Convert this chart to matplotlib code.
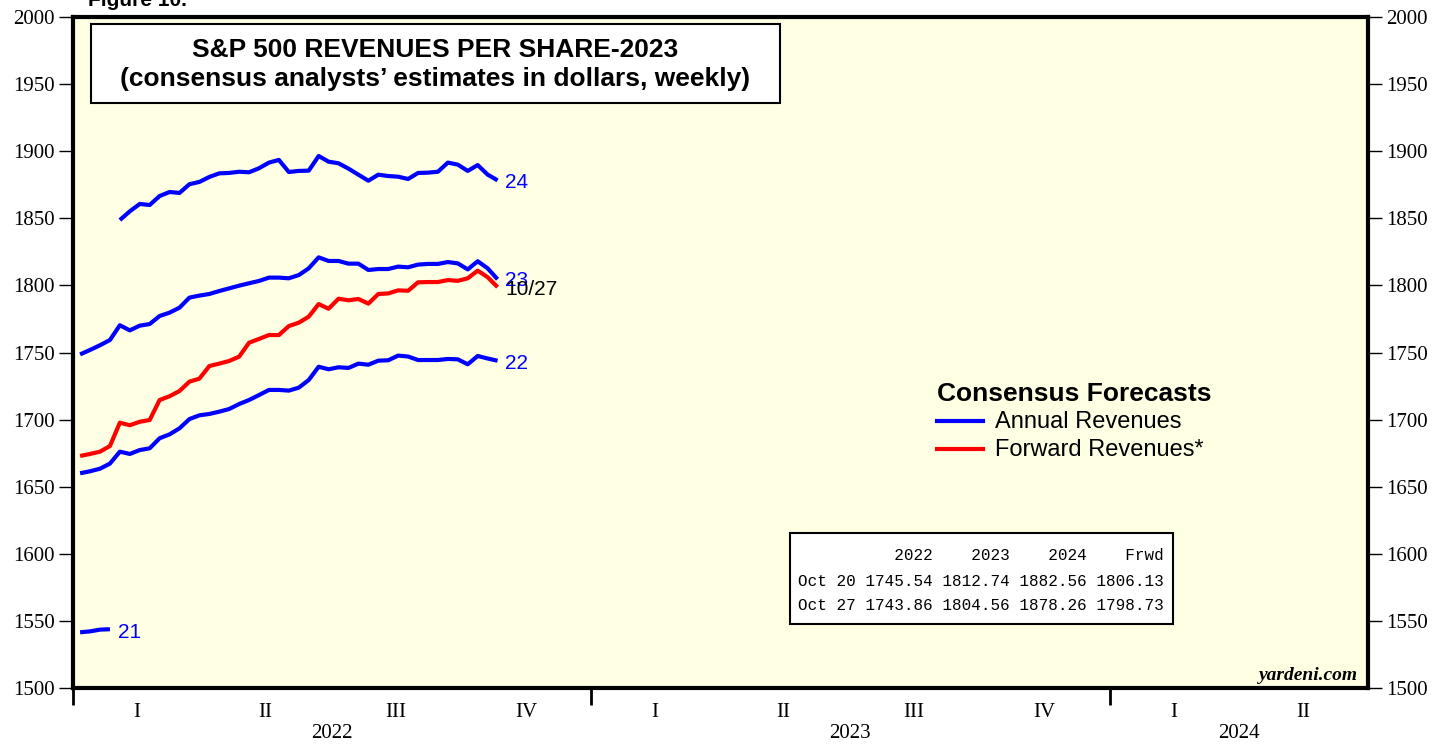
import numpy as np
import pandas as pd
import matplotlib
matplotlib.use('Agg')
import matplotlib.pyplot as plt
from matplotlib.patches import Rectangle
from matplotlib.lines import Line2D
from matplotlib.transforms import blended_transform_factory

# weekly observations (Thursdays), Jan 6 - Oct 27 2022
weeks = pd.date_range('2022-01-06', periods=43, freq='7D')

rev21 = [1541.5, 1542.2, 1543.5, 1543.8]
rev22 = [1660.0, 1661.5, 1663.4, 1667.2, 1676.1, 1674.4, 1677.3, 1678.6, 1686.1, 1689.0,
         1693.5, 1700.4, 1703.2, 1704.2, 1705.9, 1707.9, 1711.6, 1714.6, 1718.3, 1722.1,
         1722.1, 1721.6, 1723.8, 1729.5, 1739.4, 1737.5, 1739.0, 1738.5, 1741.7, 1740.9,
         1743.9, 1744.2, 1747.7, 1747.0, 1744.4, 1744.4, 1744.4, 1745.2, 1744.9, 1741.2,
         1747.4, 1745.54, 1743.86]
rev23 = [1748.6, 1751.9, 1755.4, 1759.3, 1770.3, 1766.5, 1770.0, 1771.2, 1777.2, 1779.7,
         1783.4, 1790.9, 1792.4, 1793.6, 1795.8, 1797.8, 1799.8, 1801.6, 1803.3, 1805.8,
         1805.8, 1805.3, 1807.7, 1812.7, 1820.9, 1818.2, 1818.2, 1816.2, 1816.2, 1811.5,
         1812.2, 1812.2, 1814.0, 1813.5, 1815.5, 1816.0, 1816.0, 1817.4, 1816.4, 1811.9,
         1818.0, 1812.74, 1804.56]
# 2024 estimates start in the 5th week
rev24 = [1848.7, 1855.2, 1860.7, 1859.9, 1866.6, 1869.6, 1868.9, 1875.4, 1877.1, 1880.8,
         1883.5, 1883.8, 1884.7, 1884.3, 1887.3, 1891.5, 1893.5, 1884.5, 1885.3, 1885.5,
         1896.4, 1892.2, 1891.0, 1887.0, 1882.5, 1878.0, 1882.5, 1881.5, 1881.0, 1879.3,
         1883.8, 1884.0, 1884.7, 1891.5, 1890.0, 1885.3, 1889.7, 1882.56, 1878.26]
fwd = [1672.9, 1674.4, 1676.1, 1680.3, 1697.7, 1695.8, 1698.4, 1699.7, 1714.6, 1717.4,
       1721.3, 1728.3, 1730.5, 1739.9, 1741.7, 1743.7, 1746.9, 1757.3, 1760.1, 1763.0,
       1763.0, 1769.7, 1772.2, 1776.7, 1786.1, 1782.6, 1790.1, 1788.9, 1789.9, 1786.4,
       1793.6, 1794.0, 1796.3, 1796.0, 1802.3, 1802.5, 1802.5, 1804.0, 1803.4, 1805.3,
       1811.0, 1806.13, 1798.73]

tbl_cols = ['2022', '2023', '2024', 'Frwd']
tbl_rows = ['Oct 20', 'Oct 27']
tbl_vals = [[1745.54, 1812.74, 1882.56, 1806.13],
            [1743.86, 1804.56, 1878.26, 1798.73]]

quarters = ['I', 'II', 'III', 'IV']
years = [2022, 2023, 2024]

BLUE = '#0000FF'
RED = '#FF0000'
W, H = 1450, 746

fig = plt.figure(figsize=(14.5, 7.46), dpi=100)
fig.patch.set_facecolor('white')
ax = fig.add_axes([73 / W, 58 / H, 1295 / W, 671 / H])
ax.set_facecolor('#FFFFE4')

x0 = pd.Timestamp('2022-01-01')
x1 = pd.Timestamp('2024-07-01')
ax.set_xlim(x0, x1)
ax.set_ylim(1500, 2000)

ax.plot(weeks[:4], rev21, color=BLUE, lw=3, solid_capstyle='butt')
ax.plot(weeks, rev22, color=BLUE, lw=3, solid_capstyle='butt')
ax.plot(weeks, rev23, color=BLUE, lw=3, solid_capstyle='butt')
ax.plot(weeks[4:], rev24, color=BLUE, lw=3, solid_capstyle='butt')
ax.plot(weeks, fwd, color=RED, lw=3, solid_capstyle='butt')

lab = dict(textcoords='offset pixels', va='center', ha='left', fontsize=15,
           family='Liberation Sans')
ax.annotate('24', (weeks[-1], rev24[-1]), xytext=(7, -2), color=BLUE, **lab)
ax.annotate('23', (weeks[-1], rev23[-1]), xytext=(7, -1), color=BLUE, **lab)
ax.annotate('10/27', (weeks[-1], fwd[-1]), xytext=(8, -2), color='black', **lab)
ax.annotate('22', (weeks[-1], rev22[-1]), xytext=(7, -3), color=BLUE, **lab)
ax.annotate('21', (weeks[3], rev21[-1]), xytext=(8, -3), color=BLUE, **lab)

# y axis, both sides
ax.set_yticks(np.arange(1500, 2001, 50))
ax.tick_params(axis='y', which='both', direction='out', length=10, width=1,
               left=True, right=True, labelleft=True, labelright=True,
               labelsize=15, pad=3)
for t in ax.get_yticklabels():
    t.set_family('Liberation Serif')

# x axis: year separators and quarter labels
ax.set_xticks([pd.Timestamp(f'{y}-01-01') for y in years])
ax.set_xticklabels([])
ax.tick_params(axis='x', which='major', direction='out', length=12, width=2)
qmid = []
qlab = []
for y in years:
    for q in range(4):
        start = pd.Timestamp(year=y, month=3 * q + 1, day=1)
        end = start + pd.DateOffset(months=3)
        if end > x1:
            break
        qmid.append(start + (end - start) / 2)
        qlab.append(quarters[q])
ax.set_xticks(qmid, minor=True)
ax.set_xticklabels(qlab, minor=True)
ax.tick_params(axis='x', which='minor', length=0, labelsize=15, pad=11)
for t in ax.get_xticklabels(minor=True):
    t.set_family('Liberation Serif')

trans = blended_transform_factory(ax.transData, fig.transFigure)
for y in years:
    s = pd.Timestamp(f'{y}-01-01')
    e = min(pd.Timestamp(f'{y + 1}-01-01'), x1)
    ax.text(s + (e - s) / 2, 1 - 734 / H, str(y), transform=trans, ha='center',
            va='center', fontsize=15, family='Liberation Serif')

for sp in ax.spines.values():
    sp.set_linewidth(3)

# title box
fig.patches.append(Rectangle((91 / W, 1 - 103 / H), 689 / W, 79 / H,
                             transform=fig.transFigure, facecolor='white',
                             edgecolor='black', lw=1.5, zorder=3))
fig.text(435.5 / W, 1 - 50 / H, 'S&P 500 REVENUES PER SHARE-2023', ha='center',
         va='center', fontsize=19, fontweight='bold', family='Liberation Sans', zorder=4)
fig.text(435.5 / W, 1 - 79 / H, '(consensus analysts\u2019 estimates in dollars, weekly)',
         ha='center', va='center', fontsize=19, fontweight='bold',
         family='Liberation Sans', zorder=4)
fig.text(88 / W, 1.0, 'Figure 10.', ha='left', va='center', fontsize=15,
         fontweight='bold', family='Liberation Sans')

# legend
fig.text(937 / W, 1 - 394 / H, 'Consensus Forecasts', ha='left', va='center',
         fontsize=19, fontweight='bold', family='Liberation Sans')
for yy, c, t in [(421, BLUE, 'Annual Revenues'), (449, RED, 'Forward Revenues*')]:
    fig.lines.append(Line2D([937 / W, 983 / W], [1 - yy / H, 1 - yy / H], color=c, lw=3,
                            transform=fig.transFigure))
    fig.text(995 / W, 1 - (yy + 1) / H, t, ha='left', va='center', fontsize=17,
             family='Liberation Sans')

# data table
fig.patches.append(Rectangle((790 / W, 1 - 624 / H), 383 / W, 91 / H,
                             transform=fig.transFigure, facecolor='white',
                             edgecolor='black', lw=1.5, zorder=3))
header = ' ' * 6 + ''.join(f'{c:>8}' for c in tbl_cols)
lines = [header] + [r + ''.join(f'{v:8.2f}' for v in vals) for r, vals in zip(tbl_rows, tbl_vals)]
for yy, s in zip([556, 582, 605], lines):
    fig.text(798 / W, 1 - yy / H, s, ha='left', va='center', fontsize=11.5,
             family='Liberation Mono', zorder=4)

fig.text(1358 / W, 1 - 675 / H, 'yardeni.com', ha='right', va='center', fontsize=14,
         fontweight='bold', fontstyle='italic', family='Liberation Serif')

fig.savefig('out.png', dpi=100)
